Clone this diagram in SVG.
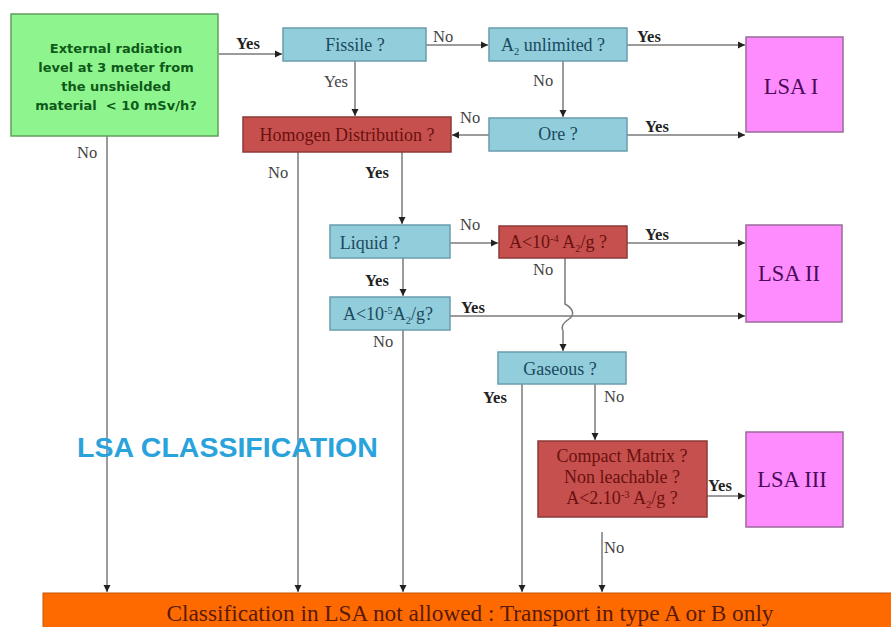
<svg xmlns="http://www.w3.org/2000/svg" width="891" height="627" viewBox="0 0 891 627">
<style>
.blue{fill:#92cddc;stroke:#6a9cad;stroke-width:1.5}
.red{fill:#c6504d;stroke:#8c3a37;stroke-width:1.5}
.pink{fill:#ff8cff;stroke:#9a6a9a;stroke-width:1.5}
.green{fill:#8ef58e;stroke:#5f9f5f;stroke-width:1.5}
.orange{fill:#ff6a00;stroke:#c85400;stroke-width:1}
.tb{font-family:"Liberation Serif",serif;font-size:18px;fill:#1a4a5c;text-anchor:middle}
.tr{font-family:"Liberation Serif",serif;font-size:18px;fill:#6a1010;text-anchor:middle}
.tp{font-family:"Liberation Serif",serif;font-size:22.5px;fill:#4b0a5a;text-anchor:middle}
.tg{font-family:"DejaVu Sans",sans-serif;font-weight:bold;font-size:13px;fill:#0f5a1a;text-anchor:middle}
.lab{font-family:"Liberation Serif",serif;font-size:16.5px;fill:#444}
.labb{font-family:"Liberation Serif",serif;font-size:16.5px;font-weight:bold;fill:#222}
.c{fill:none;stroke:#7a7a7a;stroke-width:1.5;marker-end:url(#ah)}
.sm{font-size:10.5px}
</style>
<defs>
<marker id="ah" markerWidth="8" markerHeight="8" refX="7" refY="4" orient="auto" markerUnits="userSpaceOnUse">
<path d="M0,0.5 L7,4 L0,7.5 z" fill="#222"/>
</marker>
</defs>
<rect width="891" height="627" fill="#ffffff"/>

<g id="connectors">
<path class="c" d="M219,54 H282"/>
<path class="c" d="M426,45 H488"/>
<path class="c" d="M627,45 H745"/>
<path class="c" d="M563,61 V117"/>
<path class="c" d="M627,135 H745"/>
<path class="c" d="M489,135 H452"/>
<path class="c" d="M355,61 V116"/>
<path class="c" d="M107,136 V592"/>
<path class="c" d="M298,152 V592"/>
<path class="c" d="M402,152 V224"/>
<path class="c" d="M450,243 H498"/>
<path class="c" d="M627,243 H745"/>
<path class="c" d="M403,258 V296"/>
<path class="c" d="M450,316 H745"/>
<path class="c" d="M403,330 V592"/>
<path class="c" d="M565,258 V304 C572,308 576,314 569,319 C562,324 561,327 563,331 V351"/>
<path class="c" d="M522,384 V592"/>
<path class="c" d="M595,384 V440"/>
<path class="c" d="M707,496 H745"/>
<path class="c" d="M602,532 V592"/>
</g>

<g id="labels">
<text class="labb" x="236" y="49">Yes</text>
<text class="lab" x="433" y="42">No</text>
<text class="labb" x="637" y="42">Yes</text>
<text class="lab" x="533" y="86">No</text>
<text class="lab" x="460" y="123">No</text>
<text class="labb" x="645" y="132">Yes</text>
<text class="lab" x="324" y="87">Yes</text>
<text class="lab" x="77" y="158">No</text>
<text class="lab" x="268" y="178">No</text>
<text class="labb" x="365" y="178">Yes</text>
<text class="lab" x="460" y="230">No</text>
<text class="labb" x="645" y="240">Yes</text>
<text class="lab" x="533" y="275">No</text>
<text class="labb" x="365" y="286">Yes</text>
<text class="labb" x="461" y="313">Yes</text>
<text class="lab" x="373" y="347">No</text>
<text class="labb" x="483" y="403">Yes</text>
<text class="lab" x="604" y="402">No</text>
<text class="labb" x="708" y="491">Yes</text>
<text class="lab" x="604" y="553">No</text>
</g>

<g id="n-start">
<rect class="green" x="11" y="14" width="207" height="122"/>
<text class="tg" x="116" y="53">External radiation</text>
<text class="tg" x="116" y="72">level at 3 meter from</text>
<text class="tg" x="116" y="91">the unshielded</text>
<text class="tg" x="116" y="110" xml:space="preserve">material  &lt; 10 mSv/h?</text>
</g>

<g id="n-fissile">
<rect class="blue" x="283" y="28" width="143" height="33"/>
<text class="tb" x="355" y="51">Fissile ?</text>
</g>

<g id="n-a2">
<rect class="blue" x="489" y="28" width="138" height="33"/>
<text class="tb" x="553" y="51">A<tspan class="sm" dy="4">2</tspan><tspan dy="-4"> unlimited ?</tspan></text>
</g>

<g id="n-ore">
<rect class="blue" x="489" y="118" width="138" height="33"/>
<text class="tb" x="558" y="140">Ore ?</text>
</g>

<g id="n-homogen">
<rect class="red" x="243" y="117" width="208" height="35"/>
<text class="tr" x="347" y="141">Homogen Distribution ?</text>
</g>

<g id="n-lsa1">
<rect class="pink" x="746" y="37" width="97" height="95"/>
<text class="tp" x="791" y="94">LSA I</text>
</g>

<g id="n-liquid">
<rect class="blue" x="330" y="225" width="120" height="33"/>
<text class="tb" x="370" y="249">Liquid ?</text>
</g>

<g id="n-a4">
<rect class="red" x="499" y="226" width="128" height="32"/>
<text class="tr" x="558" y="248">A&lt;10<tspan class="sm" dy="-6">-4</tspan><tspan dy="6"> A</tspan><tspan class="sm" dy="4">2</tspan><tspan dy="-4">/g ?</tspan></text>
</g>

<g id="n-a5">
<rect class="blue" x="330" y="297" width="120" height="33"/>
<text class="tb" x="388" y="320">A&lt;10<tspan class="sm" dy="-6">-5</tspan><tspan dy="6">A</tspan><tspan class="sm" dy="4">2</tspan><tspan dy="-4">/g?</tspan></text>
</g>

<g id="n-lsa2">
<rect class="pink" x="746" y="225" width="96" height="97"/>
<text class="tp" x="789" y="281">LSA II</text>
</g>

<g id="n-gaseous">
<rect class="blue" x="498" y="352" width="128" height="32"/>
<text class="tb" x="560" y="375">Gaseous ?</text>
</g>

<g id="n-compact">
<rect class="red" x="538" y="441" width="169" height="76"/>
<text class="tr" x="622" y="462">Compact Matrix ?</text>
<text class="tr" x="622" y="483">Non leachable ?</text>
<text class="tr" x="622" y="504">A&lt;2.10<tspan class="sm" dy="-6">-3</tspan><tspan dy="6"> A</tspan><tspan class="sm" dy="4">2</tspan><tspan dy="-4">/g ?</tspan></text>
</g>

<g id="n-lsa3">
<rect class="pink" x="746" y="432" width="97" height="95"/>
<text class="tp" x="792" y="487">LSA III</text>
</g>

<g id="n-notallowed">
<rect class="orange" x="43" y="593" width="860" height="40"/>
<text x="470" y="621" font-family="Liberation Serif, serif" font-size="23.3" fill="#5a1a0a" text-anchor="middle">Classification in LSA not allowed : Transport in type A or B only</text>
</g>

<text id="title" x="77" y="457" font-family="Liberation Sans, Arial, sans-serif" font-weight="bold" font-size="28.5" fill="#2aa3dc">LSA CLASSIFICATION</text>
</svg>
